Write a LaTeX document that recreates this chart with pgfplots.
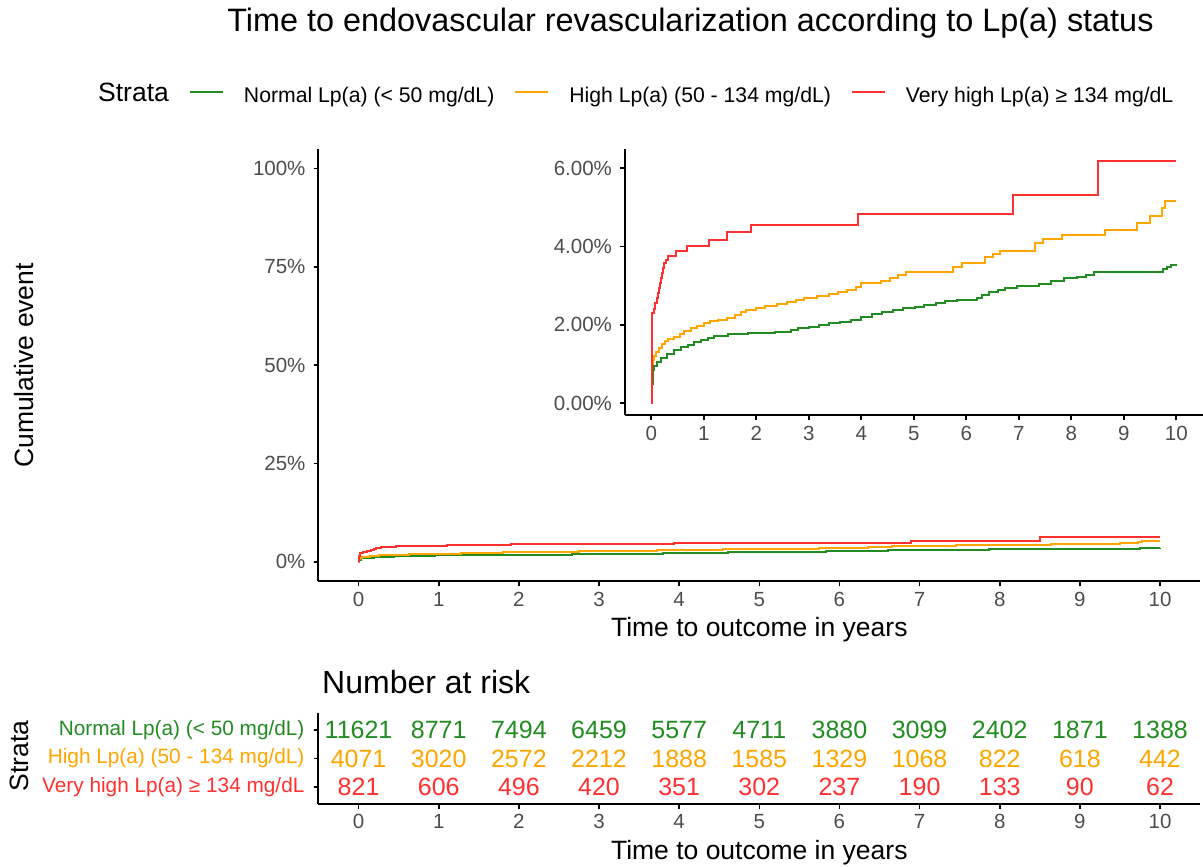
\documentclass[border=0pt]{standalone}
\usepackage{fontspec}
\setmainfont{Liberation Sans}
\usepackage{pgfplots}
\pgfplotsset{compat=1.18}
\usepackage{pgfplotstable}
\definecolor{kmgreen}{RGB}{34,139,34}
\definecolor{kmorange}{RGB}{255,165,0}
\definecolor{kmred}{RGB}{255,48,48}
\definecolor{tickgray}{RGB}{77,77,77}

\pgfplotstableread{
t y
0 0
0.01 0.5
0.03 0.85
0.06 0.94
0.1 1.05
0.19 1.15
0.3 1.27
0.44 1.36
0.57 1.44
0.7 1.5
0.82 1.56
0.95 1.62
1.08 1.67
1.2 1.72
1.46 1.76
1.84 1.8
2.35 1.83
2.66 1.87
2.8 1.91
3.0 1.95
3.2 1.99
3.39 2.04
3.6 2.08
3.8 2.13
4.0 2.2
4.21 2.27
4.4 2.32
4.61 2.38
4.8 2.43
5.02 2.47
5.2 2.5
5.43 2.55
5.6 2.6
5.83 2.64
6.2 2.68
6.3 2.76
6.44 2.85
6.6 2.89
6.73 2.94
6.97 3.0
7.38 3.05
7.62 3.11
7.87 3.19
8.1 3.23
8.28 3.28
8.44 3.36
9.66 3.36
9.75 3.42
9.82 3.47
9.9 3.52
10.0 3.56
}\normaltab

\pgfplotstableread{
t y
0 0
0.01 0.6
0.02 1.0
0.04 1.1
0.06 1.2
0.09 1.3
0.14 1.4
0.2 1.52
0.26 1.6
0.32 1.64
0.44 1.68
0.55 1.78
0.63 1.85
0.75 1.92
0.87 1.98
1.0 2.04
1.11 2.09
1.28 2.13
1.45 2.18
1.6 2.26
1.7 2.32
1.8 2.38
2.0 2.42
2.17 2.48
2.4 2.53
2.58 2.58
2.75 2.63
2.9 2.68
3.15 2.73
3.39 2.79
3.55 2.84
3.72 2.89
3.9 2.97
4.0 3.06
4.37 3.11
4.55 3.2
4.7 3.28
4.86 3.34
5.75 3.49
5.92 3.57
6.36 3.74
6.5 3.8
6.65 3.89
7.3 4.09
7.46 4.19
7.83 4.3
8.64 4.43
9.25 4.6
9.5 4.77
9.72 4.98
9.78 5.17
10.0 5.17
}\hightab

\pgfplotstableread{
t y
0 0
0.005 0.8
0.01 1.5
0.015 2.0
0.02 2.3
0.05 2.4
0.08 2.56
0.1 2.7
0.12 2.81
0.15 2.95
0.17 3.07
0.19 3.2
0.2 3.33
0.22 3.45
0.25 3.58
0.28 3.65
0.31 3.75
0.47 3.88
0.69 4.01
1.1 4.18
1.45 4.37
1.9 4.56
3.94 4.83
6.89 5.31
8.5 6.19
10.0 6.19
}\veryhightab

\pgfplotsset{
  km/.style={
    scale only axis,
    axis lines*=left,
    axis line style={line width=2pt, black},
    tick align=outside,
    major tick length=5pt,
    tick style={line width=1.6pt, black},
    ticklabel style={text=tickgray, font=\fontsize{20.5}{24}\selectfont},
    yticklabel style={xshift=-4.5pt},
    xticklabel style={yshift=-2pt},
    /pgf/number format/assume math mode=true,
    label style={font=\fontsize{26.5}{30}\selectfont},
  },
  kmline/.style={const plot, line width=2pt, mark=none},
}

\begin{document}
\begin{tikzpicture}
\path[use as bounding box] (0pt,0pt) rectangle (1203pt,-867pt);

% title
\node[anchor=base, inner sep=0pt, font=\fontsize{32.4}{36}\selectfont] at (690.5pt,-31.7pt)
  {Time to endovascular revascularization according to Lp(a) status};
\node[anchor=base west, inner sep=0pt, font=\fontsize{26.5}{30}\selectfont] at (98pt,-101.7pt) {Strata};

% main plot
\begin{axis}[km,
  at={(318.5pt,-581.4pt)}, anchor=south west,
  width=881.6pt, height=432.7pt,
  xmin=-0.5, xmax=10.5, ymin=-5, ymax=105,
  xtick={0,1,...,10}, ytick={0,25,50,75,100},
  yticklabel={\pgfmathprintnumber{\tick}\%},
  xlabel={Time to outcome in years},
  ylabel={Cumulative event},
  xlabel style={at={(axis description cs:0.5,-0.1278)}, anchor=base, inner sep=0pt},
  ylabel style={at={(axis description cs:-0.3235,0.499)}, anchor=base, inner sep=0pt},
  legend columns=3,
  legend image code/.code={\draw[#1] (0pt,4pt) -- (33pt,4pt);},
  legend style={at={(axis description cs:-0.1469,1.1225)}, anchor=west,
    draw=none, fill=none, inner sep=0pt, outer sep=0pt,
    font=\fontsize{21.2}{24}\selectfont,
    nodes={inner sep=0pt},
    /tikz/every odd column/.append style={column sep=20pt},
    /tikz/every even column/.append style={column sep=20pt}},
]
\addplot[kmline, kmgreen] table[x=t,y=y] {\normaltab};
\addlegendentry{Normal Lp(a) (< 50 mg/dL)}
\addplot[kmline, kmorange] table[x=t,y=y] {\hightab};
\addlegendentry{High Lp(a) (50 - 134 mg/dL)}
\addplot[kmline, kmred] table[x=t,y=y] {\veryhightab};
\addlegendentry{Very high Lp(a) ≥ 134 mg/dL}
\end{axis}

% inset
\begin{axis}[km,
  at={(625pt,-415.4pt)}, anchor=south west,
  width=577.5pt, height=266.7pt,
  xmin=-0.5, xmax=10.5, ymin=-0.31, ymax=6.5,
  xtick={0,1,...,10}, ytick={0,2,4,6},
  yticklabel={\pgfmathprintnumber[fixed,fixed zerofill,precision=2]{\tick}\%},
]
\addplot[kmline, kmgreen] table[x=t,y=y] {\normaltab};
\addplot[kmline, kmorange] table[x=t,y=y] {\hightab};
\addplot[kmline, kmred] table[x=t,y=y] {\veryhightab};
\end{axis}

% number at risk
\node[anchor=base west, inner sep=0pt, font=\fontsize{32}{36}\selectfont] at (322pt,-693.3pt) {Number at risk};

\begin{axis}[km,
  at={(318.5pt,-804pt)}, anchor=south west,
  width=881.6pt, height=91.2pt,
  xmin=-0.5, xmax=10.5, ymin=0.4, ymax=3.6,
  xtick={0,1,...,10}, ytick={1,2,3},
  yticklabels={{\color{kmred}Very high Lp(a) ≥ 134 mg/dL},{\color{kmorange}High Lp(a) (50 - 134 mg/dL)},{\color{kmgreen}Normal Lp(a) (< 50 mg/dL)}},
  yticklabel style={font=\fontsize{20.8}{22}\selectfont, xshift=-1pt},
  xlabel={Time to outcome in years},
  ylabel={Strata},
  xlabel style={at={(axis description cs:0.5,-0.606)}, anchor=base, inner sep=0pt},
  ylabel style={at={(axis description cs:-0.3292,0.526)}, anchor=base, inner sep=0pt},
  nodes near coords style={anchor=center, font=\fontsize{25}{28}\selectfont},
]
\addplot[draw=none, mark=none, nodes near coords, point meta=explicit symbolic,
  nodes near coords style={text=kmgreen}]
  coordinates {(0,3)[11621] (1,3)[8771] (2,3)[7494] (3,3)[6459] (4,3)[5577] (5,3)[4711]
               (6,3)[3880] (7,3)[3099] (8,3)[2402] (9,3)[1871] (10,3)[1388]};
\addplot[draw=none, mark=none, nodes near coords, point meta=explicit symbolic,
  nodes near coords style={text=kmorange}]
  coordinates {(0,2)[4071] (1,2)[3020] (2,2)[2572] (3,2)[2212] (4,2)[1888] (5,2)[1585]
               (6,2)[1329] (7,2)[1068] (8,2)[822] (9,2)[618] (10,2)[442]};
\addplot[draw=none, mark=none, nodes near coords, point meta=explicit symbolic,
  nodes near coords style={text=kmred}]
  coordinates {(0,1)[821] (1,1)[606] (2,1)[496] (3,1)[420] (4,1)[351] (5,1)[302]
               (6,1)[237] (7,1)[190] (8,1)[133] (9,1)[90] (10,1)[62]};
\end{axis}
\end{tikzpicture}
\end{document}
